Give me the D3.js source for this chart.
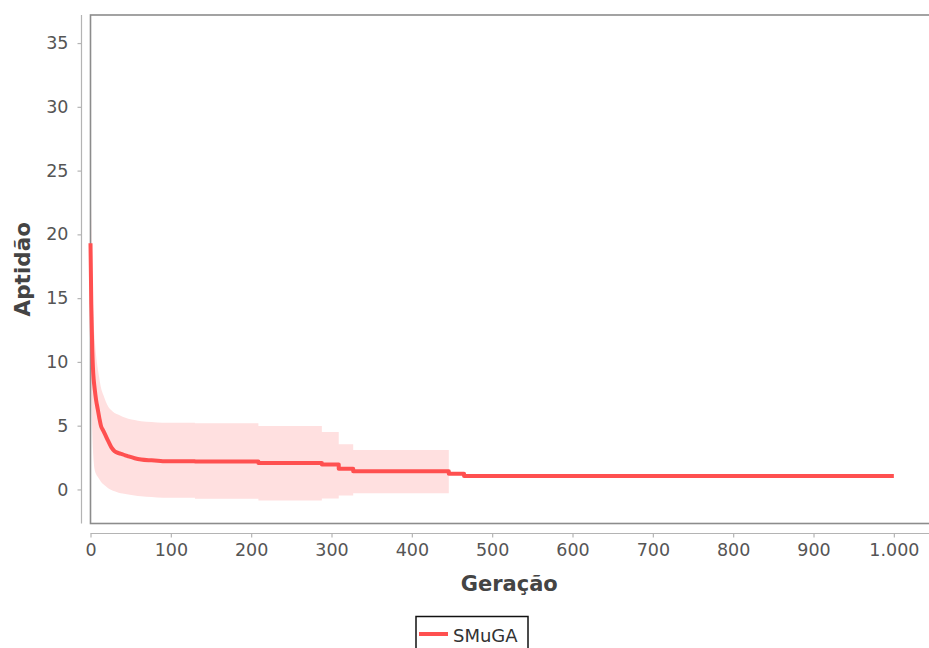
<!DOCTYPE html>
<html>
<head>
<meta charset="utf-8">
<script src="https://cdn.jsdelivr.net/npm/d3@7"></script>
<style>
  html, body { margin: 0; padding: 0; background: #fff; }
  svg { display: block; }
  text { font-family: "DejaVu Sans", Verdana, sans-serif; }
</style>
</head>
<body>
<svg id="chart" width="929" height="648"></svg>
<script>
// Mean fitness per generation with its spread band (lower / upper)
const generations = [0, 1, 2, 3, 4, 5, 7, 9, 11, 13, 16, 19, 22, 26, 30, 35, 40, 47, 55, 63, 76, 90, 130, 209, 288, 309, 327, 446, 465, 1000];
const meanFitness = [19.3, 14.5, 11.5, 9.6, 8.6, 8.0, 7.0, 6.3, 5.6, 5.0, 4.6, 4.2, 3.8, 3.3, 3.0, 2.85, 2.75, 2.6, 2.45, 2.35, 2.28, 2.22, 2.2, 2.07, 1.96, 1.62, 1.43, 1.23, 1.05, 1.05];
const lowerFitness = [12.6, 8.0, 5.0, 3.2, 2.2, 1.6, 1.2, 1.0, 0.8, 0.6, 0.4, 0.25, 0.1, -0.05, -0.15, -0.25, -0.32, -0.4, -0.47, -0.53, -0.6, -0.66, -0.72, -0.86, -0.7, -0.47, -0.29, 1.23, 1.05, 1.05];
const upperFitness = [26.0, 21.0, 17.0, 14.5, 13.0, 12.0, 10.5, 9.5, 8.7, 8.0, 7.4, 6.9, 6.5, 6.2, 6.0, 5.85, 5.7, 5.55, 5.45, 5.35, 5.28, 5.22, 5.2, 4.98, 4.5, 3.55, 3.1, 1.23, 1.05, 1.05];

const seriesName = "SMuGA";
const xTicks = [0, 100, 200, 300, 400, 500, 600, 700, 800, 900, 1000];
const yTicks = [0, 5, 10, 15, 20, 25, 30, 35];
const xTitle = "Geração";
const yTitle = "Aptidão";

// generation after which the curve is drawn as discrete plateaus
const plateauFrom = 90;

const rows = generations.map((g, i) => ({ g, m: meanFitness[i], lo: lowerFitness[i], hi: upperFitness[i] }));
const early = rows.filter(d => d.g <= plateauFrom);
const late = rows.filter(d => d.g >= plateauFrom);

const svg = d3.select("#chart");
const plot = { left: 90.5, top: 15, right: 930, bottom: 523.5 };

const x = d3.scaleLinear().domain([0, 1045]).range([plot.left, plot.right]);
const y = d3.scaleLinear().domain([-2.67, 37.2]).range([plot.bottom, plot.top]);

const locale = d3.formatLocale({ decimal: ",", thousands: ".", grouping: [3], currency: ["", ""] });
const fmt = locale.format(",d");

svg.append("defs").append("clipPath").attr("id", "plotClip")
  .append("rect")
  .attr("x", plot.left).attr("y", plot.top)
  .attr("width", plot.right - plot.left).attr("height", plot.bottom - plot.top);

// spread band: smooth early decay, then plateaus, as a single path
const bandSmooth = d3.area().x(d => x(d.g)).y0(d => y(d.lo)).y1(d => y(d.hi)).curve(d3.curveMonotoneX);
const bandStep = d3.area().x(d => x(d.g)).y0(d => y(d.lo)).y1(d => y(d.hi)).curve(d3.curveStepAfter);

svg.append("path")
  .attr("clip-path", "url(#plotClip)")
  .attr("d", bandSmooth(early) + bandStep(late))
  .attr("fill", "#ffe0e0");

// plot frame
svg.append("rect")
  .attr("x", plot.left).attr("y", plot.top)
  .attr("width", plot.right - plot.left).attr("height", plot.bottom - plot.top)
  .attr("fill", "none")
  .attr("stroke", "#8c8c8c")
  .attr("stroke-width", 1.6);

// mean line
const lineSmooth = d3.line().x(d => x(d.g)).y(d => y(d.m)).curve(d3.curveMonotoneX);
const lineStep = d3.line().x(d => x(d.g)).y(d => y(d.m)).curve(d3.curveStepAfter);

svg.append("path")
  .attr("d", lineSmooth(early) + lineStep(late).replace(/^M/, "L"))
  .attr("fill", "none")
  .attr("stroke", "#ff5050")
  .attr("stroke-width", 4)
  .attr("stroke-linejoin", "round");

// y axis (offset to the left of the frame)
const yAxis = d3.axisLeft(y).tickValues(yTicks).tickSize(4).tickPadding(9).tickFormat(d3.format("d"));
const gy = svg.append("g").attr("transform", "translate(81.5,0)").call(yAxis);
gy.select(".domain").attr("stroke", "#b4b4b4").attr("stroke-width", 1.2)
  .attr("d", `M0,${plot.top}V${plot.bottom}`);
gy.selectAll(".tick line").attr("stroke", "#b4b4b4").attr("stroke-width", 1.2);
gy.selectAll(".tick text")
  .attr("fill", "#555").style("font-size", "17.5px")
  .style("font-family", "'DejaVu Sans', Verdana, sans-serif");

// x axis (offset below the frame)
const xAxis = d3.axisBottom(x).tickValues(xTicks).tickSize(4).tickPadding(6).tickFormat(fmt);
const gx = svg.append("g").attr("transform", "translate(0,533.5)").call(xAxis);
gx.select(".domain").attr("stroke", "#b4b4b4").attr("stroke-width", 1.2)
  .attr("d", `M${plot.left},0H${plot.right}`);
gx.selectAll(".tick line").attr("stroke", "#b4b4b4").attr("stroke-width", 1.2);
gx.selectAll(".tick text")
  .attr("fill", "#555").style("font-size", "17.5px")
  .style("font-family", "'DejaVu Sans', Verdana, sans-serif");

// axis titles
svg.append("text")
  .attr("x", (plot.left + 928) / 2).attr("y", 591)
  .attr("text-anchor", "middle")
  .attr("fill", "#444")
  .style("font-size", "21px").style("font-weight", "bold")
  .text(xTitle);

svg.append("text")
  .attr("transform", `translate(30,${(plot.top + plot.bottom) / 2}) rotate(-90)`)
  .attr("text-anchor", "middle")
  .attr("fill", "#444")
  .style("font-size", "21.5px").style("font-weight", "bold")
  .text(yTitle);

// legend
const lg = svg.append("g");
lg.append("rect")
  .attr("x", 416).attr("y", 616.5).attr("width", 112).attr("height", 40)
  .attr("fill", "#fff").attr("stroke", "#111").attr("stroke-width", 1.5);
lg.append("line")
  .attr("x1", 419).attr("x2", 448).attr("y1", 634).attr("y2", 634)
  .attr("stroke", "#ff5050").attr("stroke-width", 4);
lg.append("text")
  .attr("x", 453).attr("y", 642)
  .attr("fill", "#333")
  .style("font-size", "18px")
  .text(seriesName);
</script>
</body>
</html>
